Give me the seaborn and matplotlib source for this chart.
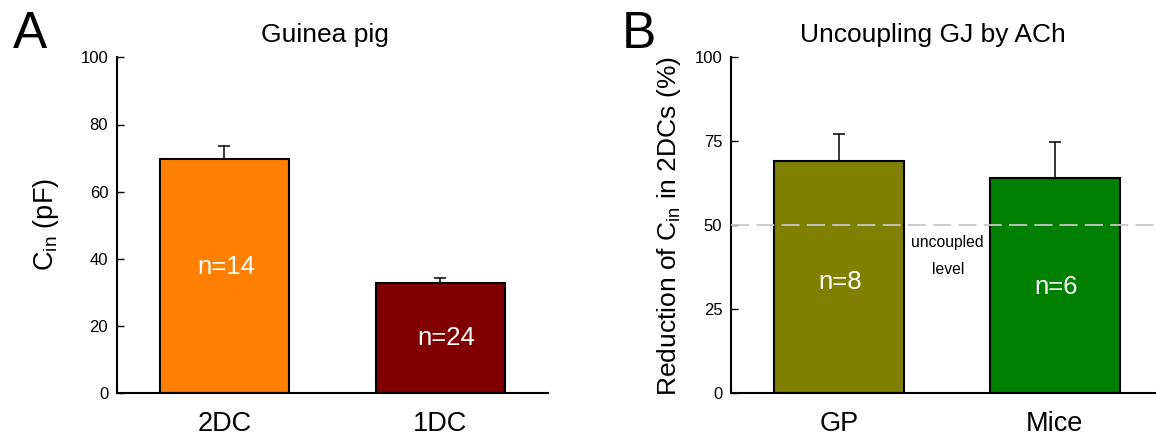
import matplotlib
matplotlib.use("Agg")
import matplotlib.pyplot as plt
import seaborn as sns
import pandas as pd

# ---- data ----
cats_a = ["2DC", "1DC"]
vals_a = [69.8, 32.7]
errs_a = [3.9, 1.5]
n_a = ["n=14", "n=24"]
n_a_y = [37.7, 16.5]
colors_a = ["#FF8000", "#800000"]

cats_b = ["GP", "Mice"]
vals_b = [69.2, 64.1]
errs_b = [8.0, 10.6]
n_b = ["n=8", "n=6"]
n_b_y = [33.2, 31.7]
colors_b = ["#808000", "#008000"]
uncoupled_level = 50

sns.set_style("ticks")
plt.rcParams["font.family"] = ["Liberation Sans", "DejaVu Sans"]
plt.rcParams["mathtext.fontset"] = "custom"
plt.rcParams["mathtext.rm"] = "Liberation Sans"
plt.rcParams["mathtext.it"] = "Liberation Sans:italic"
plt.rcParams["text.color"] = "black"
plt.rcParams["axes.labelcolor"] = "black"
plt.rcParams["xtick.color"] = "black"
plt.rcParams["ytick.color"] = "black"

W, H = 1156, 437
fig = plt.figure(figsize=(W / 100, H / 100), dpi=100)
axA = fig.add_axes([116.5 / W, 0.100, 431.8 / W, 336.0 / H])
axB = fig.add_axes([730.7 / W, 0.100, 432.0 / W, 336.0 / H])


def draw(ax, cats, vals, errs, colors):
    df = pd.DataFrame({"cat": cats, "val": vals})
    sns.barplot(data=df, x="cat", y="val", hue="cat", palette=colors,
                legend=False, width=0.6, edgecolor="black", linewidth=1.5,
                saturation=1, ax=ax)
    ax.errorbar(x=list(range(len(cats))), y=vals,
                yerr=[[0] * len(errs), errs], fmt="none", ecolor="black",
                elinewidth=1.1, capsize=4.3, capthick=1.1, zorder=1)
    ax.set_xlim(-0.5, 1.5)
    ax.set_ylim(0, 100)
    ax.set_xlabel("")
    ax.set_ylabel("")
    for s in ["top", "right"]:
        ax.spines[s].set_visible(False)
    for s in ["left", "bottom"]:
        ax.spines[s].set_linewidth(1.5)
        ax.spines[s].set_color("black")
    ax.tick_params(axis="y", direction="in", length=5, width=1,
                   labelsize=12, pad=6, colors="black")
    ax.tick_params(axis="x", length=0, labelsize=19.5, pad=13,
                   colors="black")
    ax.patch.set_visible(False)


draw(axA, cats_a, vals_a, errs_a, colors_a)
axA.set_yticks([0, 20, 40, 60, 80, 100])
for i, (t, y) in enumerate(zip(n_a, n_a_y)):
    axA.text(i + (0.01 if i == 0 else 0.028), y, t, color="white",
             fontsize=18.5, ha="center", va="center")

draw(axB, cats_b, vals_b, errs_b, colors_b)
axB.set_yticks([0, 25, 50, 75, 100])
axB.axhline(uncoupled_level, color="#c8c8c8", linewidth=1.3,
            linestyle=(0, (10, 4)), zorder=5)
for i, (t, y) in enumerate(zip(n_b, n_b_y)):
    axB.text(i + 0.005, y, t, color="white", fontsize=18.5,
             ha="center", va="center")
axB.text(0.505, 44.8, "uncoupled", fontsize=11.3, ha="center", va="center",
         color="black")
axB.text(0.505, 36.9, "level", fontsize=11.3, ha="center", va="center",
         color="black")

# titles, axis labels, panel letters
fig.text(325 / W, 1 - 35 / H, "Guinea pig", fontsize=19, ha="center",
         va="center")
fig.text(933 / W, 1 - 35 / H, "Uncoupling GJ by ACh", fontsize=19,
         ha="center", va="center")
fig.text(46 / W, 1 - 225 / H, r"C$_{\mathrm{in}}$ (pF)", fontsize=19.5,
         rotation=90, ha="center", va="center")
fig.text(669 / W, 1 - 226 / H, r"Reduction of C$_{\mathrm{in}}$ in 2DCs (%)",
         fontsize=19, rotation=90, ha="center", va="center")
fig.text(30 / W, 1 - 35 / H, "A", fontsize=37, ha="center", va="center")
fig.text(639 / W, 1 - 35 / H, "B", fontsize=37, ha="center", va="center")

fig.savefig("out.png", dpi=100)
